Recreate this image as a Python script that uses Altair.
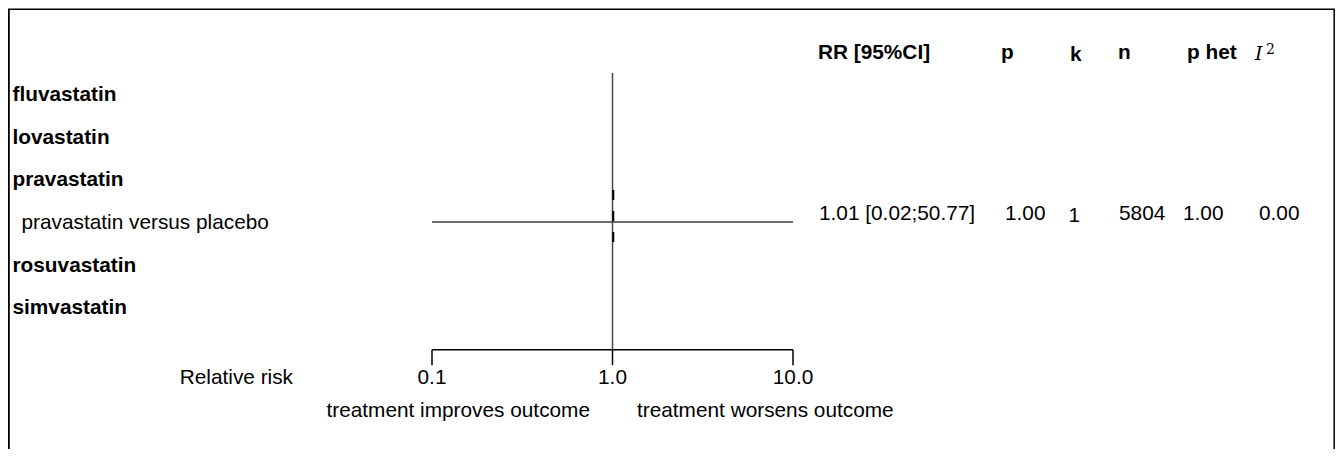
import altair as alt
import pandas as pd

# ---------------- data ----------------
labels = ["fluvastatin", "lovastatin", "pravastatin",
          "pravastatin versus placebo", "rosuvastatin", "simvastatin"]
is_group = [True, True, True, False, True, True]
row_index = [1, 2, 3, 4, 5, 6]

study_row = [4]
rr = [1.01]
ci_lower = [0.02]
ci_upper = [50.77]
rr_text = ["1.01 [0.02;50.77]"]
p_text = ["1.00"]
k_text = ["1"]
n_text = ["5804"]
phet_text = ["1.00"]
i2_text = ["0.00"]

headers = ["RR [95%CI]", "p", "k", "n", "p het"]
i2_header = ["I", "2"]
tick_values = [0.1, 1.0, 10.0]
tick_labels = ["0.1", "1.0", "10.0"]
axis_title = ["Relative risk"]
left_note = ["treatment improves outcome"]
right_note = ["treatment worsens outcome"]
ref_value = [1.0]
axis_limits = [0.1, 10.0]

# ---------------- style / layout ----------------
FONT = "Liberation Sans"
SERIF = "DejaVu Serif"
FS = 20.8
W, H = 1327, 441
AXIS_ROW = 7

X = alt.Scale(type="log", domain=axis_limits, range=[424, 785], clamp=True)
Y = alt.Scale(type="linear", domain=[0, 6], range=[43.6, 299.2], zero=False, nice=False)

one = pd.DataFrame({"d": [0]})
layers = []

# frame (left, top, right)
layers.append(alt.Chart(one).mark_rule(color="black", strokeWidth=2).encode(
    x=alt.value(0.8), y=alt.value(1), y2=alt.value(H)))
layers.append(alt.Chart(one).mark_rule(color="black", strokeWidth=1.5).encode(
    x=alt.value(0), x2=alt.value(W), y=alt.value(1.3)))
layers.append(alt.Chart(one).mark_rule(color="black", strokeWidth=1.5).encode(
    x=alt.value(W - 0.8), y=alt.value(1), y2=alt.value(H)))

# row labels
lab_df = pd.DataFrame({"label": labels, "group": is_group, "row": row_index})
layers.append(alt.Chart(lab_df).transform_filter("datum.group").mark_text(
    align="left", baseline="alphabetic", font=FONT, fontSize=FS, fontWeight="bold",
    dy=7, color="black").encode(
    x=alt.value(4.5), y=alt.Y("row:Q", scale=Y, axis=None), text="label:N"))
layers.append(alt.Chart(lab_df).transform_filter("!datum.group").mark_text(
    align="left", baseline="alphabetic", font=FONT, fontSize=FS, dy=7, color="black").encode(
    x=alt.value(13.5), y=alt.Y("row:Q", scale=Y, axis=None), text="label:N"))

# reference line at RR = 1
ref_df = pd.DataFrame({"x": ref_value, "top": [0.5], "bottom": [AXIS_ROW]})
layers.append(alt.Chart(ref_df).mark_rule(color="#4a4a4a", strokeWidth=1.5).encode(
    x=alt.X("x:Q", scale=X, axis=None),
    y=alt.Y("top:Q", scale=Y, axis=None), y2="bottom:Q"))

# study CI and estimate
st_df = pd.DataFrame({"row": study_row, "rr": rr, "lo": ci_lower, "hi": ci_upper,
                      "rr_text": rr_text, "p_text": p_text, "k_text": k_text,
                      "n_text": n_text, "phet_text": phet_text, "i2_text": i2_text})
layers.append(alt.Chart(st_df).mark_rule(color="#3a3a3a", strokeWidth=1.5).encode(
    x=alt.X("lo:Q", scale=X, axis=None), x2="hi:Q",
    y=alt.Y("row:Q", scale=Y, axis=None)))
layers.append(alt.Chart(st_df).transform_calculate(
    y0="datum.row - 0.75", y1="datum.row + 0.73").mark_rule(
    color="black", strokeWidth=2, strokeDash=[10, 11]).encode(
    x=alt.X("rr:Q", scale=X, axis=None),
    y=alt.Y("y0:Q", scale=Y, axis=None), y2="y1:Q"))

# table columns: header, value field, header x, value x, extra dy
columns = [
    (headers[0], "rr_text", 810, 811, 0),
    (headers[1], "p_text", 993, 997, 0),
    (headers[2], "k_text", 1062, 1060.5, 2),
    (headers[3], "n_text", 1110, 1111, 0),
    (headers[4], "phet_text", 1179, 1175, 0),
]
for head, field, hx, vx, extra in columns:
    hdf = pd.DataFrame({"t": [head], "row": [0]})
    layers.append(alt.Chart(hdf).mark_text(
        align="left", baseline="alphabetic", font=FONT, fontSize=FS, fontWeight="bold",
        dy=7 + extra, color="black").encode(
        x=alt.value(hx), y=alt.Y("row:Q", scale=Y, axis=None), text="t:N"))
    layers.append(alt.Chart(st_df).mark_text(
        align="left", baseline="alphabetic", font=FONT, fontSize=FS,
        dy=-2 + extra, color="black").encode(
        x=alt.value(vx), y=alt.Y("row:Q", scale=Y, axis=None), text=f"{field}:N"))

# I^2 header and value
i_df = pd.DataFrame({"t": [i2_header[0]], "row": [0]})
layers.append(alt.Chart(i_df).mark_text(
    align="left", baseline="alphabetic", font=SERIF, fontSize=19, fontStyle="italic",
    dy=8.5, color="black").encode(
    x=alt.value(1247), y=alt.Y("row:Q", scale=Y, axis=None), text="t:N"))
s_df = pd.DataFrame({"t": [i2_header[1]], "row": [0]})
layers.append(alt.Chart(s_df).mark_text(
    align="left", baseline="alphabetic", font=SERIF, fontSize=14,
    dy=2.5, color="black").encode(
    x=alt.value(1258), y=alt.Y("row:Q", scale=Y, axis=None), text="t:N"))
layers.append(alt.Chart(st_df).mark_text(
    align="left", baseline="alphabetic", font=FONT, fontSize=FS,
    dy=-2, color="black").encode(
    x=alt.value(1251), y=alt.Y("row:Q", scale=Y, axis=None), text="i2_text:N"))

# x axis bracket
ax_df = pd.DataFrame({"lo": [axis_limits[0]], "hi": [axis_limits[1]], "row": [AXIS_ROW]})
layers.append(alt.Chart(ax_df).mark_rule(color="black", strokeWidth=1.5).encode(
    x=alt.X("lo:Q", scale=X, axis=None), x2="hi:Q",
    y=alt.Y("row:Q", scale=Y, axis=None)))
tk_df = pd.DataFrame({"v": tick_values, "label": tick_labels,
                      "row": [AXIS_ROW] * len(tick_values)})
layers.append(alt.Chart(tk_df).transform_calculate(
    y1="datum.row + 0.36").mark_rule(color="black", strokeWidth=1.5).encode(
    x=alt.X("v:Q", scale=X, axis=None),
    y=alt.Y("row:Q", scale=Y, axis=None), y2="y1:Q"))
layers.append(alt.Chart(tk_df).mark_text(
    align="center", baseline="alphabetic", font=FONT, fontSize=FS, dy=34.5,
    color="black").encode(
    x=alt.X("v:Q", scale=X, axis=None),
    y=alt.Y("row:Q", scale=Y, axis=None), text="label:N"))
at_df = pd.DataFrame({"t": axis_title, "row": [AXIS_ROW]})
layers.append(alt.Chart(at_df).mark_text(
    align="right", baseline="alphabetic", font=FONT, fontSize=FS, dy=34.5,
    color="black").encode(
    x=alt.value(285), y=alt.Y("row:Q", scale=Y, axis=None), text="t:N"))
ln_df = pd.DataFrame({"t": left_note, "row": [AXIS_ROW]})
layers.append(alt.Chart(ln_df).mark_text(
    align="right", baseline="alphabetic", font=FONT, fontSize=FS, dy=67,
    color="black").encode(
    x=alt.value(582), y=alt.Y("row:Q", scale=Y, axis=None), text="t:N"))
rn_df = pd.DataFrame({"t": right_note, "row": [AXIS_ROW]})
layers.append(alt.Chart(rn_df).mark_text(
    align="left", baseline="alphabetic", font=FONT, fontSize=FS, dy=67,
    color="black").encode(
    x=alt.value(629), y=alt.Y("row:Q", scale=Y, axis=None), text="t:N"))

chart = alt.layer(*layers).properties(
    width=W, height=H, padding=0,
    autosize=alt.AutoSizeParams(type="none"),
).configure_view(stroke=None)

chart.save("out.html", embed_options={"renderer": "svg", "actions": False})
